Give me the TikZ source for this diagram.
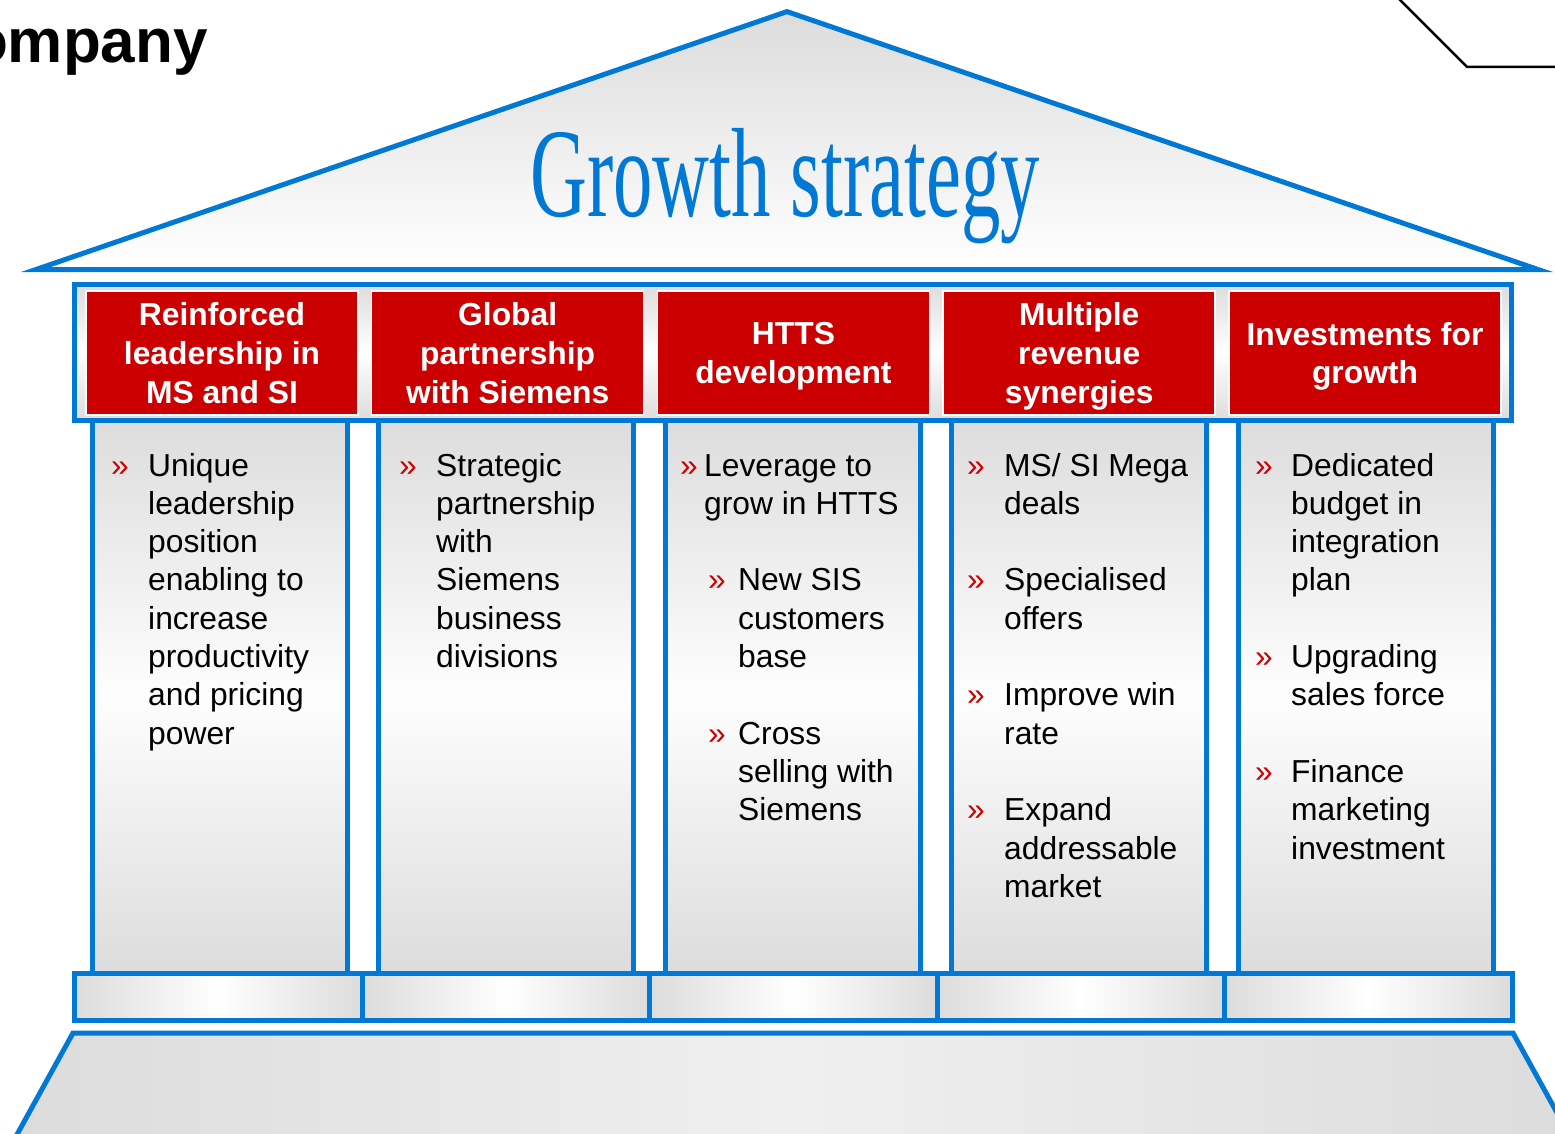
\documentclass[tikz,border=0pt]{standalone}
\usepackage{graphicx}
\usepackage{fontspec}
\setmainfont{Liberation Sans}
\newfontfamily\ttlserif{Liberation Serif}
\usepackage{tikz}
\definecolor{bb}{RGB}{0, 120, 212}
\definecolor{rr}{RGB}{204, 0, 0}
\definecolor{gg}{RGB}{220, 220, 220}

\begin{document}
\begin{tikzpicture}[
  every node/.style={inner sep=0pt},
  head/.style={rectangle, minimum width=272pt, minimum height=124pt, fill=rr, draw=white!85!gg, line width=1.5pt, text=white, align=center, text depth=0pt, font=\bfseries\fontsize{31.8}{38.8}\selectfont},
  pillar/.style={rectangle, minimum width=255pt, minimum height=560pt, draw=bb, line width=5pt, top color=gg, bottom color=gg, middle color=white!96!gg},
  slab/.style={rectangle, minimum width=287.5pt, minimum height=46.5pt, draw=bb, line width=5pt, left color=gg, right color=gg, middle color=white},
  item/.style={anchor=base west, align=left, font=\fontsize{31.8}{38.3}\selectfont},
  chev/.style={anchor=base west, text=rr, font=\fontsize{31.8}{38.3}\selectfont}]
\path [use as bounding box, clip] (0pt, 0pt) rectangle (1555pt, -1134pt);
% title line cut at the page edge
\node (co) [anchor=base east, font=\bfseries\fontsize{62}{70}\selectfont] at (208.0pt, -63.0pt) {ompany};
\coordinate (k1) at (1398.0pt, 2.0pt);
\coordinate (k2) at (1467.0pt, -67.0pt);
\coordinate (k3) at (1560.0pt, -67.0pt);
\draw [line width=2.5pt, color=black] (k1) -- (k2) -- (k3);
% roof
\draw [line width=5pt, draw=bb, line join=miter, top color=gg, bottom color=white] (787.0pt, -11.6pt) -- (36.0pt, -269.5pt) -- (1538.0pt, -269.5pt) -- cycle;
\node (ttl) [anchor=base, text=bb, font=\ttlserif\fontsize{127}{130}\selectfont] at (785.0pt, -217.0pt) {\scalebox{0.62}[1]{Growth strategy}};
% pillars
\node (p1) [pillar] at (219.5pt, -695.0pt) {};
\node (p2) [pillar] at (506.0pt, -695.0pt) {};
\node (p3) [pillar] at (792.5pt, -695.0pt) {};
\node (p4) [pillar] at (1079.0pt, -695.0pt) {};
\node (p5) [pillar] at (1365.5pt, -695.0pt) {};
% capital with the five headings
\node (band) [rectangle, minimum width=1437pt, minimum height=136.5pt, draw=bb, line width=5pt, top color=gg, bottom color=gg, middle color=white] at (793.0pt, -352.25pt) {};
\node (h1) [head] at (222.0pt, -353.0pt) {Reinforced\\leadership in\\MS and SI};
\node (h2) [head] at (507.7pt, -353.0pt) {Global\\partnership\\with Siemens};
\node (h3) [head] at (793.5pt, -353.0pt) {HTTS\\development};
\node (h4) [head] at (1079.2pt, -353.0pt) {Multiple\\revenue\\synergies};
\node (h5) [head] at (1365.0pt, -353.0pt) {Investments for\\growth};
% bases
\node (b1) [slab] at (218.25pt, -996.75pt) {};
\node (b2) [slab] at (505.75pt, -996.75pt) {};
\node (b3) [slab] at (793.25pt, -996.75pt) {};
\node (b4) [slab] at (1080.75pt, -996.75pt) {};
\node (b5) [slab] at (1368.25pt, -996.75pt) {};
% ground step
\draw [line width=5pt, draw=bb, line join=miter, left color=gg, right color=gg, middle color=gg!45] (73.0pt, -1033.0pt) -- (1513.0pt, -1033.0pt) -- (1572.0pt, -1140.0pt) -- (14.0pt, -1140.0pt) -- cycle;
% pillar texts (items sit on their last baseline)
\node (m1) [chev] at (111.0pt, -476.0pt) {»};
\node (t1) [item] at (148.0pt, -744.1pt) {Unique\\leadership\\position\\enabling to\\increase\\productivity\\and pricing\\power};
\node (m2) [chev] at (399.0pt, -476.0pt) {»};
\node (t2) [item] at (436.0pt, -667.5pt) {Strategic\\partnership\\with\\Siemens\\business\\divisions};
\node (m3) [chev] at (680.0pt, -476.0pt) {»};
\node (t3) [item] at (704.0pt, -514.3pt) {Leverage to\\grow in HTTS};
\node (m3a) [chev] at (708.0pt, -590.9pt) {»};
\node (t3a) [item] at (738.0pt, -667.5pt) {New SIS\\customers\\base};
\node (m3b) [chev] at (708.0pt, -744.1pt) {»};
\node (t3b) [item] at (738.0pt, -820.7pt) {Cross\\selling with\\Siemens};
\node (m4a) [chev] at (967.0pt, -476.0pt) {»};
\node (t4a) [item] at (1004.0pt, -514.3pt) {MS/ SI Mega\\deals};
\node (m4b) [chev] at (967.0pt, -590.9pt) {»};
\node (t4b) [item] at (1004.0pt, -629.2pt) {Specialised\\offers};
\node (m4c) [chev] at (967.0pt, -705.8pt) {»};
\node (t4c) [item] at (1004.0pt, -744.1pt) {Improve win\\rate};
\node (m4d) [chev] at (967.0pt, -820.7pt) {»};
\node (t4d) [item] at (1004.0pt, -897.3pt) {Expand\\addressable\\market};
\node (m5a) [chev] at (1255.0pt, -476.0pt) {»};
\node (t5a) [item] at (1291.0pt, -590.9pt) {Dedicated\\budget in\\integration\\plan};
\node (m5b) [chev] at (1255.0pt, -667.5pt) {»};
\node (t5b) [item] at (1291.0pt, -705.8pt) {Upgrading\\sales force};
\node (m5c) [chev] at (1255.0pt, -782.4pt) {»};
\node (t5c) [item] at (1291.0pt, -859.0pt) {Finance\\marketing\\investment};
\end{tikzpicture}
\end{document}
